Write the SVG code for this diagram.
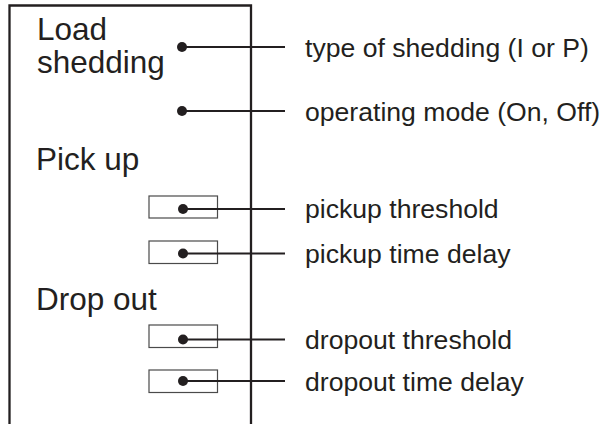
<svg xmlns="http://www.w3.org/2000/svg" width="606" height="424" viewBox="0 0 606 424">
<style>
text{font-family:"Liberation Sans",Arial,sans-serif;fill:#231f20}
.h{font-size:31.5px}
.l{font-size:26.6px}
.frame{fill:none;stroke:#231f20;stroke-width:2.3}
.cell{fill:#fff;stroke:#4a4a4a;stroke-width:1.2}
.wire{stroke:#231f20;stroke-width:2;fill:none}
.dot{fill:#231f20}
</style>
<rect width="606" height="424" fill="#fff"/>
<g id="block">
<path class="frame" d="M9.5 430 V5.5 H251 V430"/>
<text class="h" x="37" y="40">Load</text>
<text class="h" x="37" y="73">shedding</text>
<text class="h" x="36" y="170">Pick up</text>
<text class="h" x="36" y="310">Drop out</text>
</g>
<g id="cells">
<rect class="cell" x="149" y="196" width="68.5" height="22"/>
<rect class="cell" x="149" y="241" width="68.5" height="22.5"/>
<rect class="cell" x="149" y="325" width="68.5" height="22.5"/>
<rect class="cell" x="149" y="370" width="68.5" height="22.5"/>
</g>
<g id="connectors">
<line class="wire" x1="182" y1="47" x2="285" y2="47"/>
<line class="wire" x1="182" y1="111" x2="285" y2="111"/>
<line class="wire" x1="183" y1="209" x2="285" y2="209"/>
<line class="wire" x1="183" y1="253.5" x2="285" y2="253.5"/>
<line class="wire" x1="183" y1="339.5" x2="285" y2="339.5"/>
<line class="wire" x1="183" y1="381" x2="285" y2="381"/>
<circle class="dot" cx="182" cy="47" r="5"/>
<circle class="dot" cx="182" cy="111" r="5"/>
<circle class="dot" cx="183" cy="209" r="5"/>
<circle class="dot" cx="183" cy="253.5" r="5"/>
<circle class="dot" cx="183" cy="339.5" r="5"/>
<circle class="dot" cx="183" cy="381" r="5"/>
</g>
<g id="labels">
<text class="l" x="305" y="56.5">type of shedding (I or P)</text>
<text class="l" x="305" y="120.5">operating mode (On, Off)</text>
<text class="l" x="305" y="218">pickup threshold</text>
<text class="l" x="305" y="263">pickup time delay</text>
<text class="l" x="305" y="349">dropout threshold</text>
<text class="l" x="305" y="390.5">dropout time delay</text>
</g>
</svg>
